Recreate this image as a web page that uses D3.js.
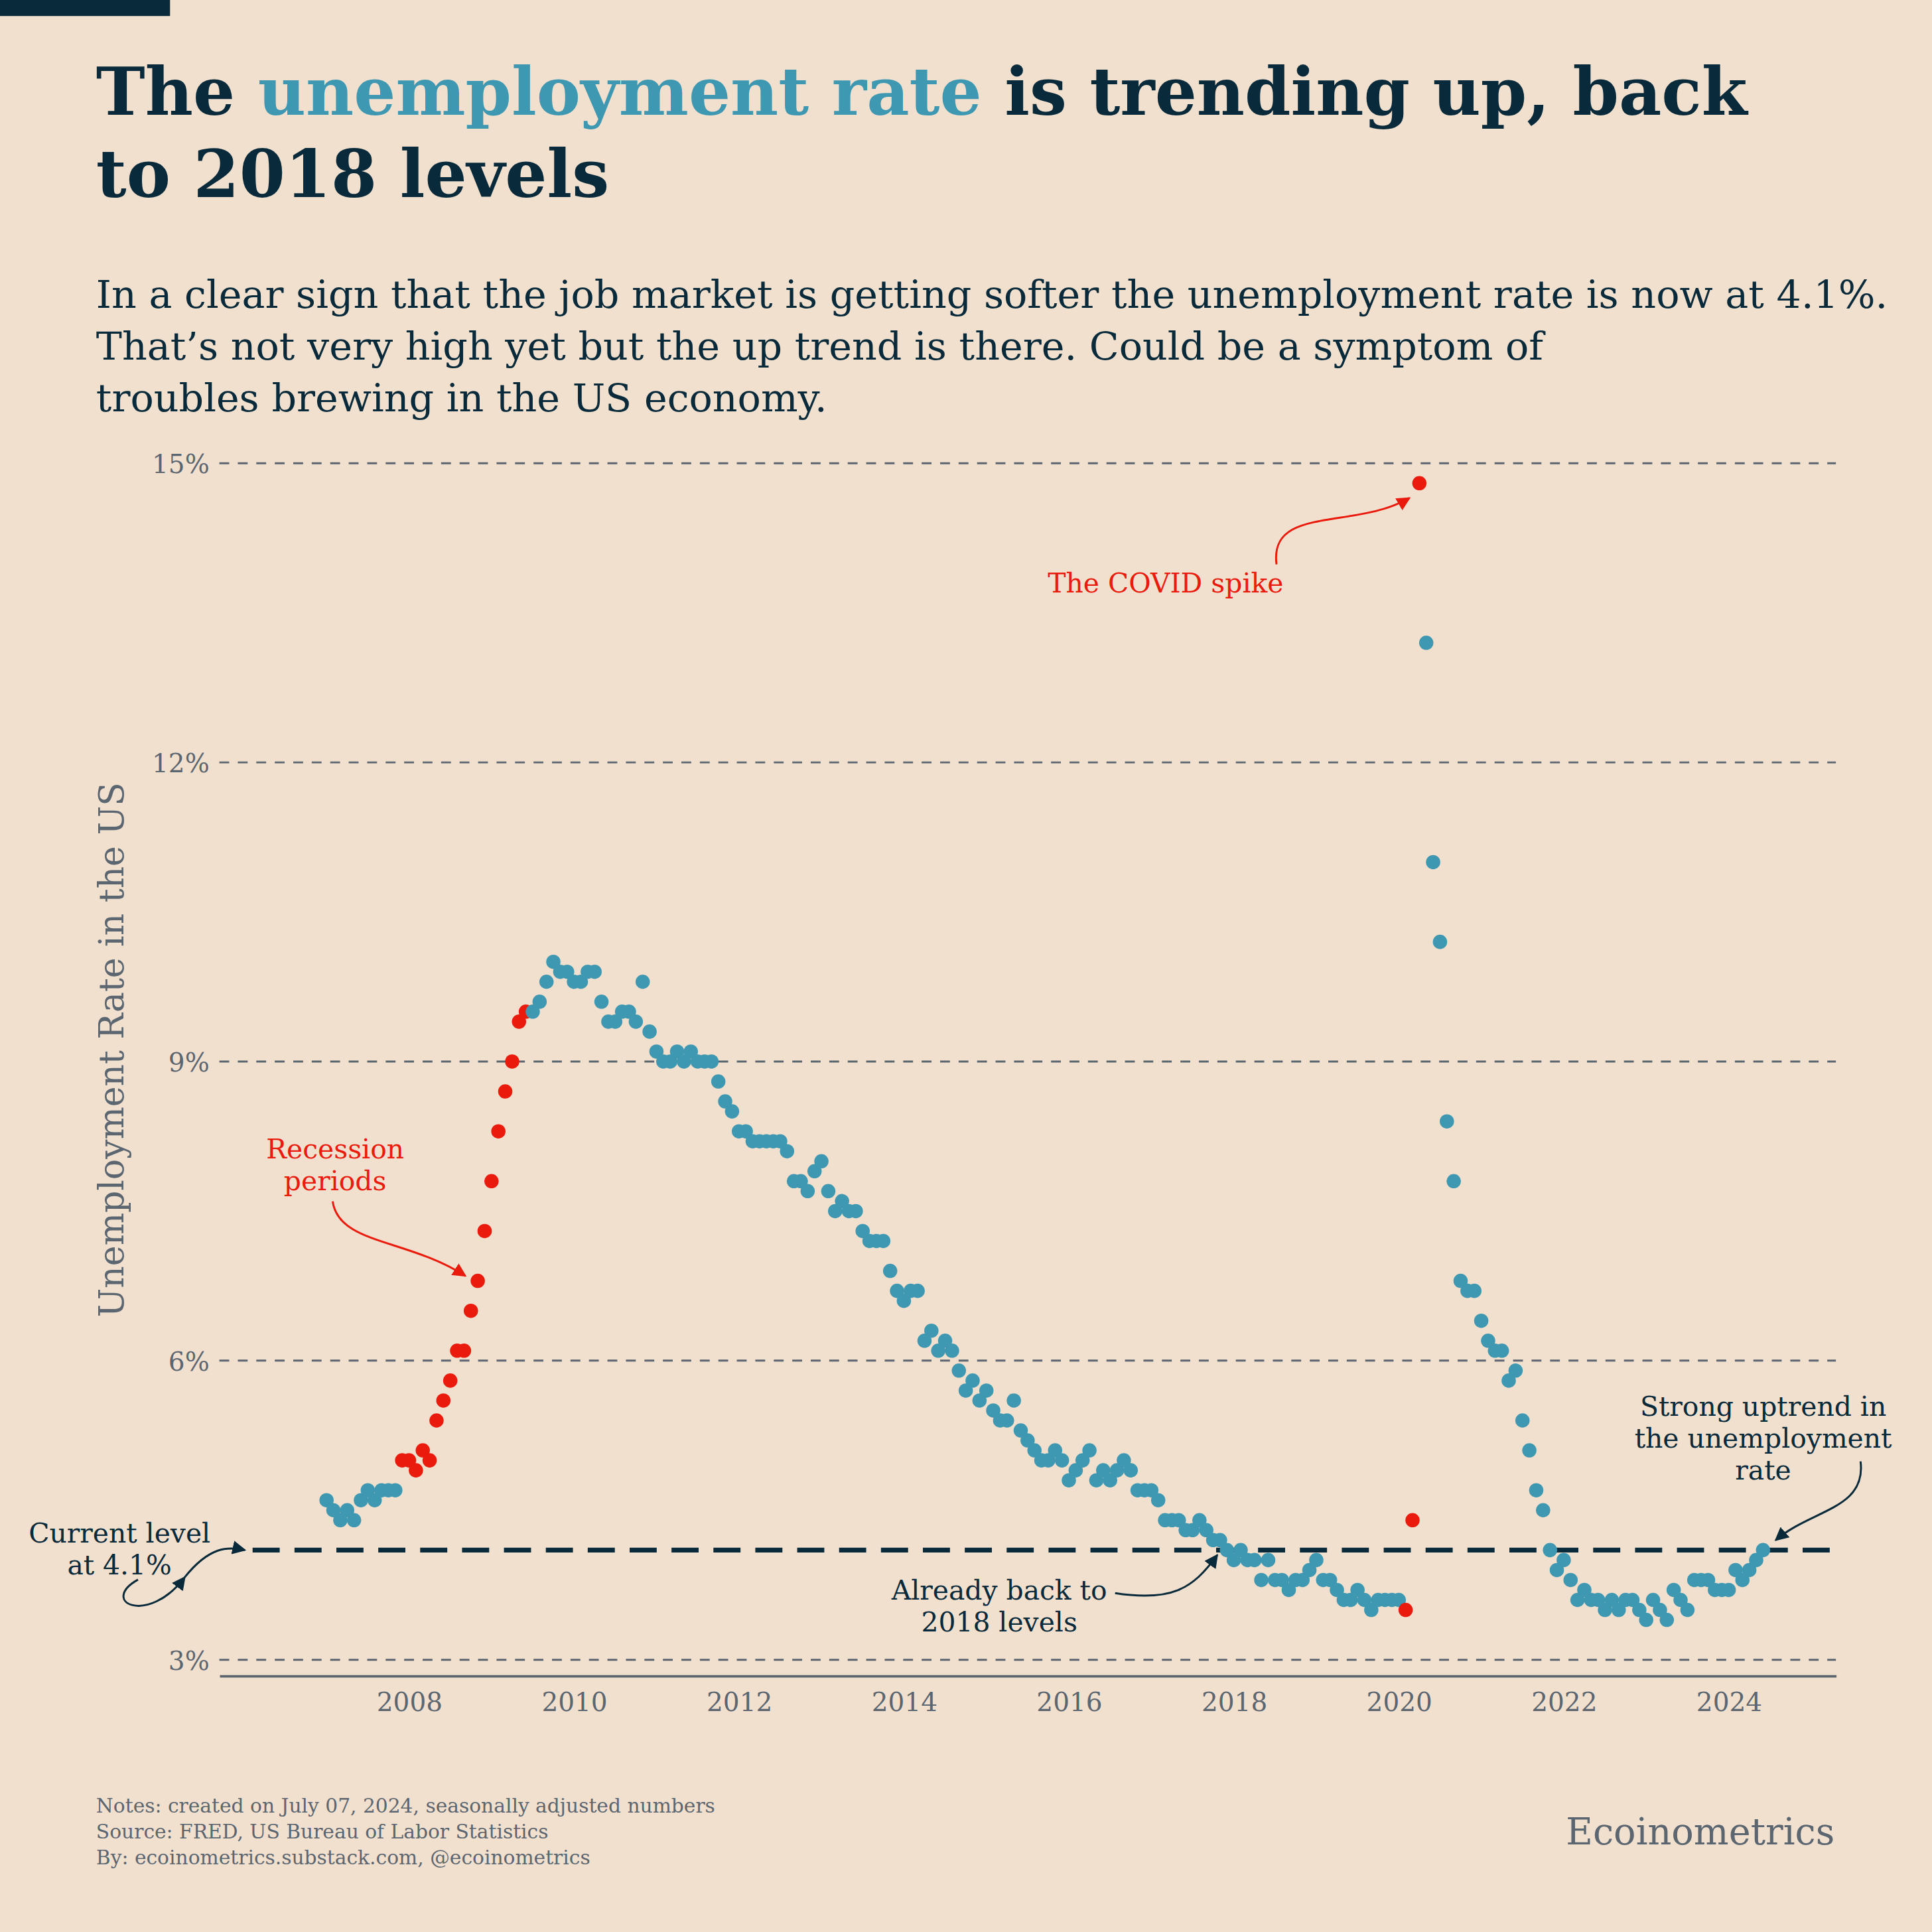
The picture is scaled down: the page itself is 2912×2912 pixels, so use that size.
<!DOCTYPE html>
<html><head><meta charset="utf-8">
<script src="https://cdn.jsdelivr.net/npm/d3@7"></script>
<style>body{margin:0;background:#f2e0cf}</style>
</head><body><div id="chart"></div>
<script>
const startYear = 2007;
const rates = [
  4.6,4.5,4.4,4.5,4.4,4.6,4.7,4.6,4.7,4.7,4.7,5.0,
  5.0,4.9,5.1,5.0,5.4,5.6,5.8,6.1,6.1,6.5,6.8,7.3,
  7.8,8.3,8.7,9.0,9.4,9.5,9.5,9.6,9.8,10.0,9.9,9.9,
  9.8,9.8,9.9,9.9,9.6,9.4,9.4,9.5,9.5,9.4,9.8,9.3,
  9.1,9.0,9.0,9.1,9.0,9.1,9.0,9.0,9.0,8.8,8.6,8.5,
  8.3,8.3,8.2,8.2,8.2,8.2,8.2,8.1,7.8,7.8,7.7,7.9,
  8.0,7.7,7.5,7.6,7.5,7.5,7.3,7.2,7.2,7.2,6.9,6.7,
  6.6,6.7,6.7,6.2,6.3,6.1,6.2,6.1,5.9,5.7,5.8,5.6,
  5.7,5.5,5.4,5.4,5.6,5.3,5.2,5.1,5.0,5.0,5.1,5.0,
  4.8,4.9,5.0,5.1,4.8,4.9,4.8,4.9,5.0,4.9,4.7,4.7,
  4.7,4.6,4.4,4.4,4.4,4.3,4.3,4.4,4.3,4.2,4.2,4.1,
  4.0,4.1,4.0,4.0,3.8,4.0,3.8,3.8,3.7,3.8,3.8,3.9,
  4.0,3.8,3.8,3.7,3.6,3.6,3.7,3.6,3.5,3.6,3.6,3.6,
  3.6,3.5,4.4,14.8,13.2,11.0,10.2,8.4,7.8,6.8,6.7,6.7,
  6.4,6.2,6.1,6.1,5.8,5.9,5.4,5.1,4.7,4.5,4.1,3.9,
  4.0,3.8,3.6,3.7,3.6,3.6,3.5,3.6,3.5,3.6,3.6,3.5,
  3.4,3.6,3.5,3.4,3.7,3.6,3.5,3.8,3.8,3.8,3.7,3.7,
  3.7,3.9,3.8,3.9,4.0,4.1
];
// recession months as [start, end] in fractional years
const recessions = [[2007 + 11/12, 2009 + 5/12], [2020 + 1/12, 2020 + 3/12]];
const yTicks = [3, 6, 9, 12, 15];
const xTicks = [2008, 2010, 2012, 2014, 2016, 2018, 2020, 2022, 2024];
const currentLevel = 4.1;

const W = 1568;
const svg = d3.select("#chart").append("svg")
  .attr("width", 2912).attr("height", 2912)
  .attr("viewBox", `0 0 ${W} ${W}`)
  .style("background", "#f2e0cf")
  .style("display", "block");

const dark = "#082a3a", blue = "#3f98b1", red = "#ea1a0c", grey = "#5b6670";
const serif = "Georgia, 'DejaVu Serif', serif";

svg.append("rect").attr("x", 0).attr("y", 0).attr("width", 138).attr("height", 13).attr("fill", dark);

// title
const title = svg.append("text").attr("x", 78).attr("font-family", serif).attr("font-weight", "bold")
  .attr("font-size", 53.5).attr("fill", dark);
const t1 = title.append("tspan").attr("x", 78).attr("y", 93);
t1.append("tspan").text("The ");
t1.append("tspan").attr("fill", blue).text("unemployment rate");
t1.append("tspan").text(" is trending up, back");
title.append("tspan").attr("x", 78).attr("y", 160).text("to 2018 levels");

const sub = ["In a clear sign that the job market is getting softer the unemployment rate is now at 4.1%.",
  "That\u2019s not very high yet but the up trend is there. Could be a symptom of",
  "troubles brewing in the US economy."];
svg.append("g").selectAll("text").data(sub).join("text")
  .attr("x", 78).attr("y", (d, i) => 250 + i * 42)
  .attr("font-family", serif).attr("font-size", 31.6).attr("fill", dark).text(d => d);

const x = d3.scaleLinear().domain([2005.70, 2025.30]).range([178, 1490]);
const y = d3.scaleLinear().domain([2.84, 15]).range([1360, 376]);

// grid
const g = svg.append("g");
g.selectAll("line.grid").data(yTicks).join("line")
  .attr("x1", 178).attr("x2", 1490).attr("y1", d => y(d)).attr("y2", d => y(d))
  .attr("stroke", grey).attr("stroke-width", 1.6).attr("stroke-dasharray", "8,7");
g.selectAll("text.yt").data(yTicks).join("text")
  .attr("x", 170).attr("y", d => y(d) + 8).attr("text-anchor", "end")
  .attr("font-family", serif).attr("font-size", 21).attr("fill", grey).text(d => d + "%");

const xAxis = svg.append("g").attr("transform", `translate(0,${y(2.84)})`)
  .call(d3.axisBottom(x).tickValues(xTicks).tickFormat(d3.format("d")).tickSize(0).tickPadding(14));
xAxis.select(".domain").attr("stroke", grey).attr("stroke-width", 2);
xAxis.selectAll("text").attr("font-family", serif).attr("font-size", 21).attr("fill", grey);

svg.append("text").attr("transform", `translate(100,852) rotate(-90)`).attr("text-anchor", "middle")
  .attr("font-family", serif).attr("font-size", 28).attr("fill", grey).text("Unemployment Rate in the US");

// current level line
svg.append("line").attr("x1", 205).attr("x2", 1490).attr("y1", y(currentLevel)).attr("y2", y(currentLevel))
  .attr("stroke", dark).attr("stroke-width", 4).attr("stroke-dasharray", "22,12");

const data = rates.map((v, i) => ({t: startYear + i / 12, v}));
const inRec = d => recessions.some(r => d.t >= r[0] - 1e-6 && d.t <= r[1] + 1e-6);
svg.append("g").selectAll("circle").data(data).join("circle")
  .attr("cx", d => x(d.t)).attr("cy", d => y(d.v)).attr("r", 5.8)
  .attr("fill", d => inRec(d) ? red : blue);

// annotations
svg.append("defs").selectAll("marker").data([["ar", red], ["ad", dark]]).join("marker")
  .attr("id", d => d[0]).attr("viewBox", "0 0 10 10").attr("refX", 9).attr("refY", 5)
  .attr("markerWidth", 7).attr("markerHeight", 7).attr("orient", "auto")
  .append("path").attr("d", "M0,0L10,5L0,10Z").attr("fill", d => d[1]);

function note(lines, tx, ty, color, anchor) {
  svg.append("g").selectAll("text").data(lines).join("text")
    .attr("x", tx).attr("y", (d, i) => ty + i * 26).attr("text-anchor", anchor || "middle")
    .attr("font-family", serif).attr("font-size", 22).attr("fill", color).text(d => d);
}
function arrow(x0, y0, c1x, c1y, c2x, c2y, x1, y1, m, color) {
  const p = d3.path(); p.moveTo(x0, y0); p.bezierCurveTo(c1x, c1y, c2x, c2y, x1, y1);
  svg.append("path").attr("d", p.toString()).attr("fill", "none").attr("stroke", color)
    .attr("stroke-width", 1.6).attr("marker-end", `url(#${m})`);
}
note(["The COVID spike"], 946, 481, red);
arrow(1036, 458, 1030, 410, 1100, 430, x(2020.25) - 8, y(14.8) + 12, "ar", red);

note(["Recession", "periods"], 272, 940, red);
arrow(270, 975, 275, 1010, 330, 1005, x(2008 + 10/12) - 10, y(6.8) - 4, "ar", red);

note(["Current level", "at 4.1%"], 97, 1252, dark);
arrow(112, 1282, 80, 1300, 120, 1320, 150, 1280, "ad", dark);
arrow(150, 1280, 170, 1255, 185, 1255, x(2006.1) - 6, y(4.1), "ad", dark);

note(["Already back to", "2018 levels"], 811, 1298, dark);
arrow(905, 1293, 950, 1300, 968, 1290, x(2017.8), y(4.15) + 8, "ad", dark);

note(["Strong uptrend in", "the unemployment", "rate"], 1431, 1149, dark);
arrow(1510, 1186, 1515, 1225, 1470, 1225, x(2024.45) + 8, y(4.1) - 8, "ad", dark);

// footer
svg.append("g").selectAll("text").data([
  "Notes: created on July 07, 2024, seasonally adjusted numbers",
  "Source: FRED, US Bureau of Labor Statistics",
  "By: ecoinometrics.substack.com, @ecoinometrics"]).join("text")
  .attr("x", 78).attr("y", (d, i) => 1471 + i * 21).attr("font-family", serif)
  .attr("font-size", 16).attr("fill", grey).text(d => d);
svg.append("text").attr("x", 1489).attr("y", 1497).attr("text-anchor", "end")
  .attr("font-family", serif).attr("font-size", 30).attr("fill", grey).text("Ecoinometrics");
</script></body></html>
